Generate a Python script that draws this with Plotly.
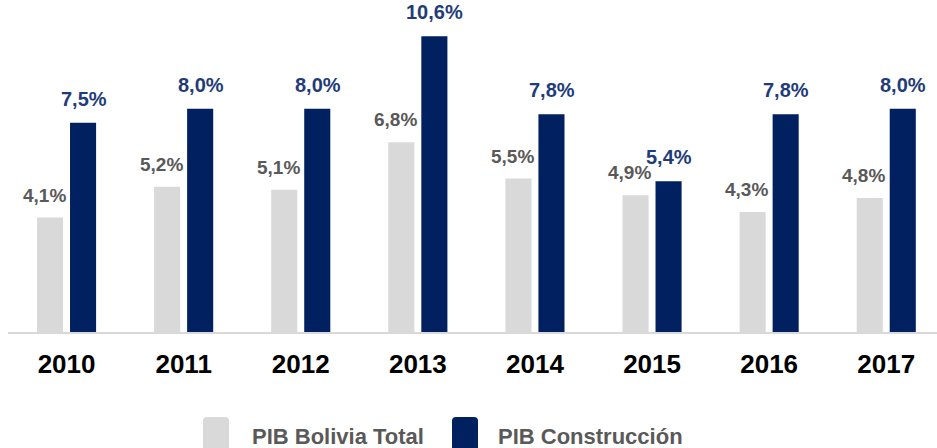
import plotly.graph_objects as go

years = ["2010", "2011", "2012", "2013", "2014", "2015", "2016", "2017"]
pib_total = [4.1, 5.2, 5.1, 6.8, 5.5, 4.9, 4.3, 4.8]
pib_constr = [7.5, 8.0, 8.0, 10.6, 7.8, 5.4, 7.8, 8.0]
series_names = ["PIB Bolivia Total", "PIB Construcción"]

GRAY = "#D9D9D9"
NAVY = "#002060"
GRAY_TXT = "#595959"
NAVY_TXT = "#1F3C78"
FONT = "Liberation Sans, Arial, sans-serif"

W, H = 937, 448
ML, MR, MT, MB = 8, 0, 25, 116
PW = W - ML - MR
PH = H - MT - MB


def fmt(v):
    return f"{v:.1f}".replace(".", ",") + "%"


fig = go.Figure()
fig.add_trace(go.Bar(x=years, y=pib_total, name=series_names[0],
                     marker=dict(color=GRAY, line=dict(width=0)), showlegend=False))
fig.add_trace(go.Bar(x=years, y=pib_constr, name=series_names[1],
                     marker=dict(color=NAVY, line=dict(width=0)), showlegend=False))

annotations = []
for i, v in enumerate(pib_total):
    annotations.append(dict(x=i, y=v, xref="x", yref="y", text="<b>" + fmt(v) + "</b>",
                            showarrow=False, xanchor="right", yanchor="bottom", xshift=1, yshift=10,
                            font=dict(family=FONT, size=19, color=GRAY_TXT)))
for i, v in enumerate(pib_constr):
    annotations.append(dict(x=i, y=v, xref="x", yref="y", text="<b>" + fmt(v) + "</b>",
                            showarrow=False, xanchor="center", yanchor="bottom",
                            xshift=17, yshift=11,
                            font=dict(family=FONT, size=20, color=NAVY_TXT)))


def px2paper(px, py):
    return (px - ML) / PW, (H - MB - py) / PH


def rounded_rect(x0, y0, x1, y1, r):
    def P(x, y):
        a, b = px2paper(x, y)
        return f"{a:.5f},{b:.5f}"
    return (f"M {P(x0 + r, y0)} L {P(x1 - r, y0)} Q {P(x1, y0)} {P(x1, y0 + r)} "
            f"L {P(x1, y1 - r)} Q {P(x1, y1)} {P(x1 - r, y1)} "
            f"L {P(x0 + r, y1)} Q {P(x0, y1)} {P(x0, y1 - r)} "
            f"L {P(x0, y0 + r)} Q {P(x0, y0)} {P(x0 + r, y0)} Z")


shapes = []
legend_items = [(203, 229, 250, GRAY, series_names[0]), (452, 478, 496, NAVY, series_names[1])]
for sx0, sx1, tx, col, name in legend_items:
    shapes.append(dict(type="path", xref="paper", yref="paper",
                       path=rounded_rect(sx0, 417, sx1, 452, 4),
                       fillcolor=col, line=dict(width=0), layer="above"))
    ax, ay = px2paper(tx, 436)
    annotations.append(dict(x=ax, y=ay, xref="paper", yref="paper", text="<b>" + name + "</b>",
                            showarrow=False, xanchor="left", yanchor="middle",
                            font=dict(family=FONT, size=22, color=GRAY_TXT)))

span = PW / 117.1
fig.update_layout(
    width=W, height=H,
    margin=dict(l=ML, r=MR, t=MT, b=MB, pad=0, autoexpand=False),
    paper_bgcolor="white", plot_bgcolor="white",
    barmode="group", bargap=0.436, bargroupgap=0.21,
    annotations=annotations, shapes=shapes,
    xaxis=dict(type="category", range=[-0.5, -0.5 + span], showgrid=False, zeroline=False,
               showline=True, linecolor="#D9D9D9", linewidth=2,
               ticks="outside", ticklen=8, tickcolor="rgba(0,0,0,0)",
               tickfont=dict(family=FONT, size=26, color="#000000"),
               tickprefix="<b>", ticksuffix="</b>", fixedrange=True),
    yaxis=dict(range=[0, 11], showticklabels=False, ticks="", showline=False,
               showgrid=False, zeroline=False, fixedrange=True),
    showlegend=False,
)

fig.write_html("out.html", config={"displayModeBar": False},
               post_script="document.body.style.margin='0';")
